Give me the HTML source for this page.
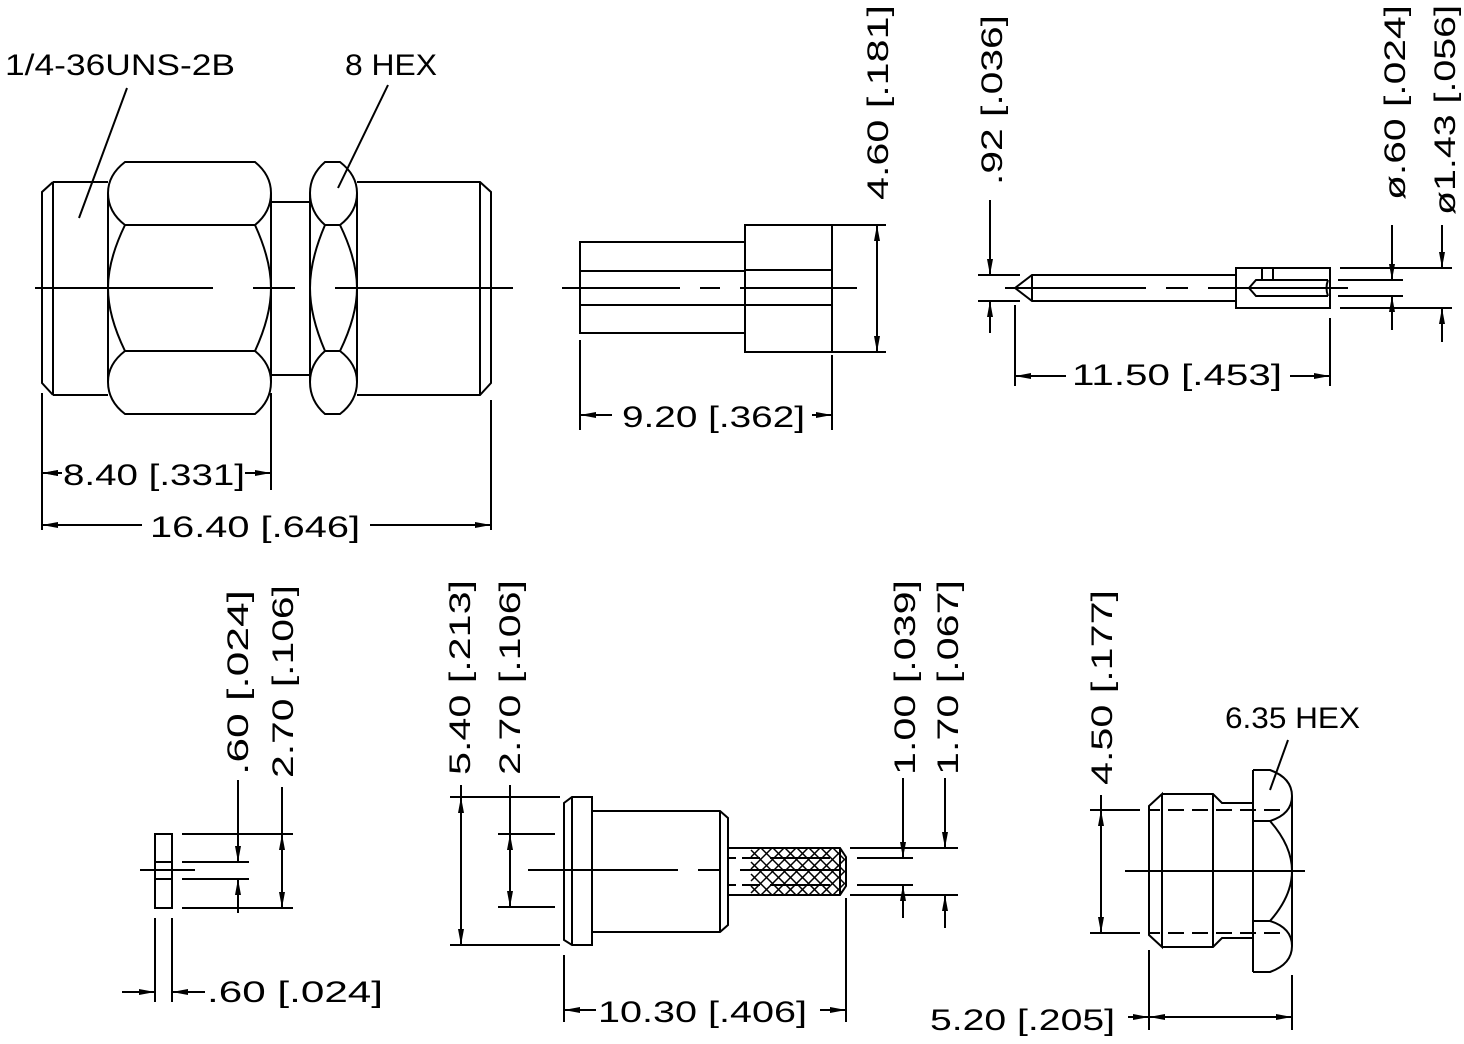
<!DOCTYPE html>
<html><head><meta charset="utf-8"><style>
html,body{margin:0;padding:0;background:#fff;}
svg{display:block;}
text{font-family:"Liberation Sans",sans-serif;font-size:30px;fill:#000;}
</style></head><body>
<svg width="1464" height="1044" viewBox="0 0 1464 1044" xmlns="http://www.w3.org/2000/svg">
<defs>
<marker id="a" viewBox="0 0 16 6" refX="16" refY="3" markerWidth="16" markerHeight="6" markerUnits="userSpaceOnUse" orient="auto-start-reverse"><path d="M0,0 L16,3 L0,6 Z" fill="#000"/></marker>
</defs>
<g fill="none" stroke="#000" stroke-width="2">
<!-- VIEW 1 -->
<path d="M53,182 L42,192 L42,383 L53,395 M53,182 V395 M53,182 H108 M53,395 H108"/>
<path d="M125,162 H255 Q271,175 271,193 Q271,212 255,225 H125 Q108,212 108,193 Q108,175 125,162 Z"/>
<path d="M125,351 H255 Q271,364 271,382 Q271,401 255,414 H125 Q108,401 108,382 Q108,364 125,351 Z"/>
<path d="M125,225 Q108,260 108,288 Q108,316 125,351 M255,225 Q271,260 271,288 Q271,316 255,351"/>
<path d="M108,193 V382 M271,193 V382"/>
<path d="M271,202 H310 M271,375 H310"/>
<path d="M325,162 H340 Q357,175 357,193 Q357,212 340,225 H325 Q310,212 310,193 Q310,175 325,162 Z"/>
<path d="M325,351 H340 Q357,364 357,382 Q357,401 340,414 H325 Q310,401 310,382 Q310,364 325,351 Z"/>
<path d="M325,225 Q310,260 310,288 Q310,316 325,351 M340,225 Q357,260 357,288 Q357,316 340,351"/>
<path d="M310,193 V382 M357,193 V382"/>
<path d="M357,182 H480 L491,192 V383 L480,395 H357 M480,182 V395"/>
<path d="M35,288 H213 M253,288 H295 M335,288 H513"/>
<path d="M127,88 L79,218 M388,85 L338,188"/>
<path d="M42,400 V490 M271,393 V490 M42,393 V530 M491,400 V530"/>
<path d="M42,473 H62 M245,473 H271" marker-start="url(#a)"/>
<line x1="62" y1="473" x2="42" y2="473" marker-end="url(#a)"/>
<line x1="245" y1="473" x2="271" y2="473" marker-end="url(#a)"/>
<line x1="142" y1="525" x2="42" y2="525" marker-end="url(#a)"/>
<line x1="370" y1="525" x2="491" y2="525" marker-end="url(#a)"/>
<!-- VIEW 2 -->
<path d="M580,242 H745 V333 H580 Z M745,225 H832 V352 H745 Z M745,270 H832 M745,305 H832 M580,271 H745 M580,305 H745"/>
<path d="M562,288 H680 M700,288 H720 M740,288 H857"/>
<path d="M832,225 H886 M832,352 H886"/>
<line x1="877" y1="300" x2="877" y2="225" marker-end="url(#a)"/>
<line x1="877" y1="280" x2="877" y2="352" marker-end="url(#a)"/>
<path d="M580,340 V430 M832,355 V430"/>
<line x1="612" y1="415" x2="580" y2="415" marker-end="url(#a)"/>
<line x1="812" y1="415" x2="832" y2="415" marker-end="url(#a)"/>
<!-- VIEW 3 -->
<path d="M1015,288 L1032,275 H1236 M1015,288 L1032,301 H1236 M1032,275 V301"/>
<path d="M1236,268 H1330 V308 H1236 Z M1328,280 H1256 L1249,288 L1256,296 H1328 M1262,268 V280 M1273,268 V280 M1328,280 Q1325,288 1328,296"/>
<path d="M1005,288 H1146 M1166,288 H1188 M1208,288 H1348"/>
<path d="M978,275 H1020 M978,301 H1020"/>
<line x1="990" y1="200" x2="990" y2="275" marker-end="url(#a)"/>
<line x1="990" y1="333" x2="990" y2="301" marker-end="url(#a)"/>
<path d="M1340,268 H1452 M1338,280 H1403 M1338,296 H1403 M1340,308 H1452"/>
<line x1="1392" y1="225" x2="1392" y2="280" marker-end="url(#a)"/>
<line x1="1392" y1="330" x2="1392" y2="296" marker-end="url(#a)"/>
<line x1="1442" y1="225" x2="1442" y2="268" marker-end="url(#a)"/>
<line x1="1442" y1="342" x2="1442" y2="308" marker-end="url(#a)"/>
<path d="M1015,305 V386 M1330,318 V386"/>
<line x1="1066" y1="376" x2="1015" y2="376" marker-end="url(#a)"/>
<line x1="1290" y1="376" x2="1330" y2="376" marker-end="url(#a)"/>
<!-- VIEW 4 washer -->
<path d="M155,834 H172 V908 H155 Z M155,862 H172 M155,879 H172 M140,870 H195"/>
<path d="M182,834 H293 M182,908 H293 M182,862 H249 M182,879 H249"/>
<line x1="238" y1="780" x2="238" y2="862" marker-end="url(#a)"/>
<line x1="238" y1="913" x2="238" y2="879" marker-end="url(#a)"/>
<line x1="282" y1="870" x2="282" y2="834" marker-end="url(#a)"/>
<line x1="282" y1="870" x2="282" y2="908" marker-end="url(#a)"/>
<line x1="282" y1="787" x2="282" y2="834"/>
<path d="M155,918 V1002 M172,918 V1002"/>
<line x1="122" y1="992" x2="155" y2="992" marker-end="url(#a)"/>
<line x1="205" y1="992" x2="172" y2="992" marker-end="url(#a)"/>
<!-- VIEW 5 -->
<path d="M572,797 H592 V945 H572 L564,940 V803 Z M572,797 V945"/>
<path d="M592,811 H720 L728,818 V925 L720,932 H592 M720,811 V932"/>
<path d="M728,848 H840 L846,857 V886 L840,895 H728 M840,848 V895"/>
<path d="M728,858 H736 M742,858 H760 M770,858 H830 M728,885 H736 M742,885 H760 M770,885 H830"/>
<path d="M528,870 H678 M698,870 H720 M740,870 H840"/>
<g stroke-width="1.5">
<path d="M751,857 L760,848 M751,869 L772,848 M751,881 L784,848 M751,893 L796,848 M761,895 L808,848 M773,895 L820,848 M785,895 L832,848 M797,895 L842,850 M809,895 L845,859 M821,895 L845,871 M833,895 L845,883"/>
<path d="M751,886 L760,895 M751,874 L772,895 M751,862 L784,895 M751,850 L796,895 M761,848 L808,895 M773,848 L820,895 M785,848 L832,895 M797,848 L842,893 M809,848 L845,884 M821,848 L845,872 M833,848 L845,860"/>
</g>
<path d="M450,797 H560 M450,945 H560 M498,834 H555 M498,907 H555"/>
<line x1="461" y1="870" x2="461" y2="797" marker-end="url(#a)"/>
<line x1="461" y1="870" x2="461" y2="945" marker-end="url(#a)"/>
<line x1="461" y1="785" x2="461" y2="797"/>
<line x1="510" y1="870" x2="510" y2="834" marker-end="url(#a)"/>
<line x1="510" y1="870" x2="510" y2="907" marker-end="url(#a)"/>
<line x1="510" y1="785" x2="510" y2="834"/>
<path d="M850,848 H958 M857,858 H913 M857,885 H913 M850,895 H958"/>
<line x1="903" y1="778" x2="903" y2="858" marker-end="url(#a)"/>
<line x1="903" y1="918" x2="903" y2="885" marker-end="url(#a)"/>
<line x1="945" y1="778" x2="945" y2="848" marker-end="url(#a)"/>
<line x1="945" y1="928" x2="945" y2="895" marker-end="url(#a)"/>
<path d="M564,955 V1022 M846,898 V1022"/>
<line x1="596" y1="1010" x2="564" y2="1010" marker-end="url(#a)"/>
<line x1="820" y1="1010" x2="846" y2="1010" marker-end="url(#a)"/>
<!-- VIEW 6 -->
<path d="M1162,794 H1213 L1222,803 H1253 M1162,947 H1213 L1222,938 H1253 M1149,806 L1162,794 V947 L1149,935 Z M1213,794 V947"/>
<path d="M1253,770 H1270 Q1292,778 1292,796 Q1292,814 1270,821 H1253 M1253,921 H1270 Q1292,928 1292,946 Q1292,964 1270,972 H1253 M1270,821 Q1292,846 1292,871 Q1292,896 1270,921 M1253,770 V972 M1292,796 V946"/>
<path d="M1149,810 H1160 M1168,810 H1184 M1192,810 H1208 M1216,810 H1232 M1240,810 H1256 M1264,810 H1280 M1149,933 H1160 M1168,933 H1184 M1192,933 H1208 M1216,933 H1232 M1240,933 H1256 M1264,933 H1280"/>
<path d="M1125,871 H1305"/>
<path d="M1090,810 H1140 M1090,933 H1140"/>
<line x1="1101" y1="871" x2="1101" y2="810" marker-end="url(#a)"/>
<line x1="1101" y1="871" x2="1101" y2="933" marker-end="url(#a)"/>
<line x1="1101" y1="795" x2="1101" y2="810"/>
<path d="M1288,740 L1270,790"/>
<path d="M1149,950 V1030 M1292,975 V1030"/>
<line x1="1128" y1="1017" x2="1149" y2="1017" marker-end="url(#a)"/>
<line x1="1220" y1="1017" x2="1149" y2="1017" marker-end="url(#a)"/>
<line x1="1220" y1="1017" x2="1292" y2="1017" marker-end="url(#a)"/>
</g>
<g>
<text x="5" y="75" textLength="230" lengthAdjust="spacingAndGlyphs">1/4-36UNS-2B</text>
<text x="345" y="75" textLength="92" lengthAdjust="spacingAndGlyphs">8 HEX</text>
<text x="63" y="485" textLength="182" lengthAdjust="spacingAndGlyphs">8.40 [.331]</text>
<text x="150" y="537" textLength="210" lengthAdjust="spacingAndGlyphs">16.40 [.646]</text>
<text x="622" y="427" textLength="183" lengthAdjust="spacingAndGlyphs">9.20 [.362]</text>
<text x="1072" y="385" textLength="210" lengthAdjust="spacingAndGlyphs">11.50 [.453]</text>
<text x="207" y="1002" textLength="176" lengthAdjust="spacingAndGlyphs">.60 [.024]</text>
<text x="598" y="1022" textLength="209" lengthAdjust="spacingAndGlyphs">10.30 [.406]</text>
<text x="930" y="1030" textLength="185" lengthAdjust="spacingAndGlyphs">5.20 [.205]</text>
<text x="1225" y="728" textLength="135" lengthAdjust="spacingAndGlyphs">6.35 HEX</text>
<text transform="translate(888,200) rotate(-90)" textLength="195" lengthAdjust="spacingAndGlyphs">4.60 [.181]</text>
<text transform="translate(1002,185) rotate(-90)" textLength="170" lengthAdjust="spacingAndGlyphs">.92 [.036]</text>
<text transform="translate(1405,200) rotate(-90)" textLength="195" lengthAdjust="spacingAndGlyphs">ø.60 [.024]</text>
<text transform="translate(1455,215) rotate(-90)" textLength="210" lengthAdjust="spacingAndGlyphs">ø1.43 [.056]</text>
<text transform="translate(248,775) rotate(-90)" textLength="185" lengthAdjust="spacingAndGlyphs">.60 [.024]</text>
<text transform="translate(293,778) rotate(-90)" textLength="193" lengthAdjust="spacingAndGlyphs">2.70 [.106]</text>
<text transform="translate(470,775) rotate(-90)" textLength="195" lengthAdjust="spacingAndGlyphs">5.40 [.213]</text>
<text transform="translate(520,775) rotate(-90)" textLength="195" lengthAdjust="spacingAndGlyphs">2.70 [.106]</text>
<text transform="translate(915,775) rotate(-90)" textLength="195" lengthAdjust="spacingAndGlyphs">1.00 [.039]</text>
<text transform="translate(958,775) rotate(-90)" textLength="195" lengthAdjust="spacingAndGlyphs">1.70 [.067]</text>
<text transform="translate(1112,785) rotate(-90)" textLength="195" lengthAdjust="spacingAndGlyphs">4.50 [.177]</text>
</g>
</svg>
</body></html>
